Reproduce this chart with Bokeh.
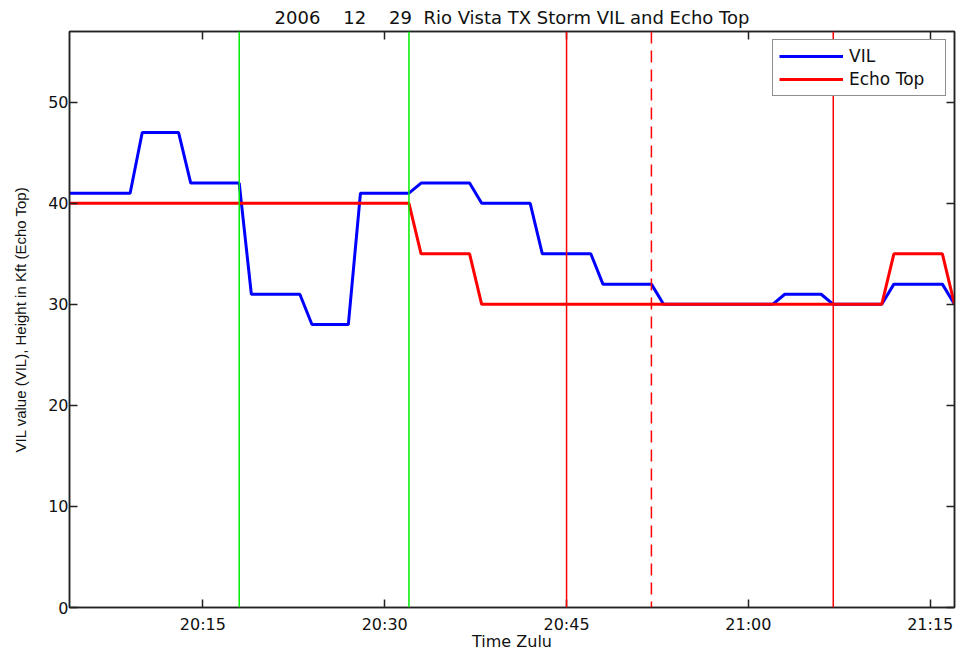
from datetime import datetime
from bokeh.plotting import figure
from bokeh.models import (Range1d, FixedTicker, DatetimeTickFormatter, LinearAxis,
                          DatetimeAxis, Span, Legend, LegendItem)
from bokeh.embed import file_html
from bokeh.resources import INLINE

# ---- data ----
NB = "\u00a0"
title_text = "2006" + NB * 4 + "12" + NB * 4 + "29" + NB * 2 + "Rio Vista TX Storm VIL and Echo Top"
vil_times = ["20:04", "20:09", "20:10", "20:13", "20:14", "20:18", "20:19", "20:23", "20:24",
             "20:27", "20:28", "20:32", "20:33", "20:37", "20:38", "20:42", "20:43", "20:47",
             "20:48", "20:52", "20:53", "21:02", "21:03", "21:06", "21:07", "21:11", "21:12",
             "21:16", "21:17"]
vil_values = [41, 41, 47, 47, 42, 42, 31, 31, 28, 28, 41, 41, 42, 42, 40, 40, 35, 35,
              32, 32, 30, 30, 31, 31, 30, 30, 32, 32, 30]
echo_times = ["20:04", "20:32", "20:33", "20:37", "20:38", "21:11", "21:12", "21:16", "21:17"]
echo_values = [40, 40, 35, 35, 30, 30, 35, 35, 30]
green_events = ["20:18", "20:32"]
red_events = ["20:45", "21:07"]
red_dashed_events = ["20:52"]
x_tick_labels = ["20:15", "20:30", "20:45", "21:00", "21:15"]
y_ticks = [0, 10, 20, 30, 40, 50]
x_start, x_end = "20:04", "21:17"
y_start, y_end = 0, 57

EPOCH = datetime(1970, 1, 1)


def dt(t):
    h, m = t.split(":")
    return datetime(2006, 12, 29, int(h), int(m))


def ms(t):
    return (dt(t) - EPOCH).total_seconds() * 1000.0


WIDE = "DejaVu Sans"
NARROW = "Liberation Sans"
INK = "#111111"
AXC = "#222222"

p = figure(width=957, height=653, x_axis_type="datetime",
           x_range=Range1d(dt(x_start), dt(x_end)), y_range=Range1d(y_start, y_end),
           output_backend="svg", toolbar_location=None,
           min_border_left=69, min_border_right=3, min_border_top=31, min_border_bottom=46,
           title=title_text)
p.title.align = "center"
p.title.vertical_align = "top"
p.title.text_font = WIDE
p.title.text_font_size = "18px"
p.title.text_font_style = "normal"
p.title.text_color = INK
p.title.standoff = 4

p.grid.visible = False
p.outline_line_color = AXC
p.outline_line_width = 1.5
p.background_fill_color = "white"
p.border_fill_color = "white"

xticker = FixedTicker(ticks=[ms(t) for t in x_tick_labels])
yticker = FixedTicker(ticks=y_ticks)
fmt = DatetimeTickFormatter(seconds="%H:%M", minsec="%H:%M", minutes="%H:%M",
                            hourmin="%H:%M", hours="%H:%M")

xa = p.xaxis[0]
xa.ticker = xticker
xa.formatter = fmt
xa.axis_label = "Time Zulu"
ya = p.yaxis[0]
ya.ticker = yticker
ya.axis_label = "VIL value (VIL), Height in Kft (Echo Top)"

for ax in (xa, ya):
    ax.major_tick_in = 8
    ax.major_tick_out = 0
    ax.minor_tick_in = 0
    ax.minor_tick_out = 0
    ax.axis_line_color = AXC
    ax.axis_line_width = 1.5
    ax.major_tick_line_color = AXC
    ax.major_tick_line_width = 1.5
    ax.major_label_text_font = WIDE
    ax.major_label_text_font_size = "16px"
    ax.major_label_text_color = INK
    ax.axis_label_text_font_style = "normal"
    ax.axis_label_text_color = INK
xa.axis_label_text_font = WIDE
xa.axis_label_text_font_size = "16px"
ya.axis_label_text_font = NARROW
ya.axis_label_text_font_size = "15px"
xa.major_label_standoff = 7
xa.axis_label_standoff = -5
ya.major_label_standoff = 1
ya.axis_label_standoff = 16

# mirrored ticks on top and right (box style)
top = DatetimeAxis(ticker=xticker, formatter=fmt)
right = LinearAxis(ticker=yticker)
for ax in (top, right):
    ax.major_tick_in = 8
    ax.major_tick_out = 0
    ax.minor_tick_in = 0
    ax.minor_tick_out = 0
    ax.axis_line_color = AXC
    ax.axis_line_width = 1.5
    ax.major_tick_line_color = AXC
    ax.major_tick_line_width = 1.5
    ax.major_label_text_font_size = "0px"
    ax.major_label_standoff = 0
p.add_layout(top, "above")
p.add_layout(right, "right")

r_vil = p.line([dt(t) for t in vil_times], vil_values, line_color="#0000ff", line_width=3)
r_echo = p.line([dt(t) for t in echo_times], echo_values, line_color="#ff0000", line_width=3)

# event lines
for t in green_events:
    p.add_layout(Span(location=ms(t), dimension="height", line_color="#00ee00", line_width=1.5))
for t in red_events:
    p.add_layout(Span(location=ms(t), dimension="height", line_color="#ff0000", line_width=1.5))
for t in red_dashed_events:
    p.add_layout(Span(location=ms(t), dimension="height", line_color="#ff0000", line_width=1.5,
                      line_dash="12 7"))

legend = Legend(items=[LegendItem(label="VIL", renderers=[r_vil]),
                       LegendItem(label="Echo Top", renderers=[r_echo])],
                location="top_right")
legend.margin = 8
legend.padding = 6
legend.spacing = 3
legend.glyph_width = 64
legend.glyph_height = 18
legend.label_height = 18
legend.label_width = 90
legend.label_standoff = 6
legend.label_text_font = WIDE
legend.label_text_font_size = "17px"
legend.label_text_color = INK
legend.border_line_color = AXC
legend.border_line_width = 1.5
legend.background_fill_color = "white"
legend.background_fill_alpha = 1.0
p.add_layout(legend, "center")

open("out.html", "w").write(file_html(p, INLINE))
